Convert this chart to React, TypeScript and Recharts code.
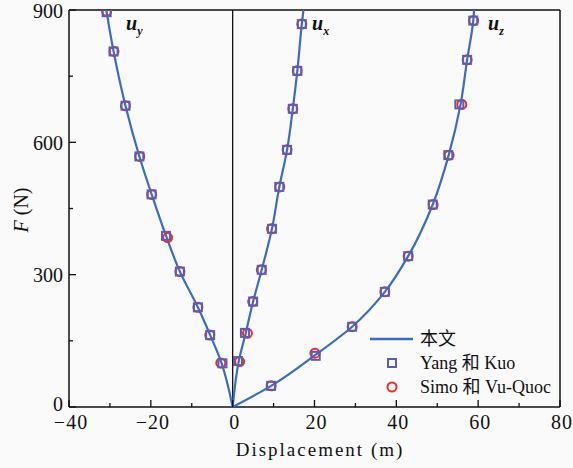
import React from 'react';
import { ScatterChart, Scatter, XAxis, YAxis, ReferenceLine } from 'recharts';

// curve "本文" (x = displacement, F = load)
const uyLineF = [0, 99, 163, 226, 307, 386, 482, 568, 683, 806, 900];
const uyLineX = [0, -2.7, -5.5, -8.5, -12.9, -16.2, -19.8, -22.8, -26.2, -29.1, -30.9];
const uxLineF = [0, 104, 168, 239, 311, 404, 499, 583, 676, 762, 868, 900];
const uxLineX = [0, 1.5, 3.2, 5.0, 7.1, 9.6, 11.4, 13.3, 14.7, 15.8, 16.9, 17.3];
const uzLineF = [0, 48, 118, 182, 261, 342, 459, 571, 686, 787, 876, 900];
const uzLineX = [0, 9.4, 20.2, 29.2, 37.2, 42.9, 48.9, 52.8, 55.7, 57.3, 58.8, 59.0];

// Yang 和 Kuo
const yangUyF = [99, 163, 226, 307, 388, 482, 568, 683, 806, 895];
const yangUyX = [-2.5, -5.5, -8.5, -12.9, -16.3, -19.8, -22.8, -26.2, -29.1, -30.8];
const yangUxF = [104, 168, 239, 311, 404, 499, 583, 676, 762, 868];
const yangUxX = [1.3, 3.0, 5.0, 7.1, 9.6, 11.4, 13.3, 14.7, 15.8, 16.9];
const yangUzF = [48, 116, 182, 261, 342, 459, 571, 686, 787, 876];
const yangUzX = [9.4, 20.3, 29.2, 37.2, 42.9, 48.9, 52.7, 55.4, 57.3, 58.8];

// Simo 和 Vu-Quoc
const simoUyF = [100, 163, 226, 307, 384, 482, 568, 683, 806, 897];
const simoUyX = [-2.9, -5.6, -8.5, -12.9, -15.9, -19.8, -22.7, -26.2, -29.0, -30.8];
const simoUxF = [103, 167, 239, 311, 404, 499, 583, 676, 762, 868];
const simoUxX = [1.7, 3.6, 4.9, 7.0, 9.5, 11.5, 13.3, 14.7, 15.8, 16.9];
const simoUzF = [48, 122, 182, 261, 342, 459, 571, 686, 787, 876];
const simoUzX = [9.4, 20.1, 29.2, 37.2, 42.9, 49.0, 52.9, 56.0, 57.3, 58.9];

const xTicks = [-40, -30, -20, -10, 0, 10, 20, 30, 40, 50, 60, 70, 80];
const yTicks = [0, 150, 300, 450, 600, 750, 900];

const pts = (xs: number[], fs: number[]) => xs.map((x, i) => ({ x, y: fs[i] }));

const LINE = '#3a6cc2';
const SQUARE = '#5c5cb4';
const CIRCLE = '#ee2a2a';
const serif = '"Liberation Serif", "Noto Sans CJK SC", serif';

const YTick = (props: any) => {
  const { x, y, payload } = props;
  const major = payload.value % 300 === 0;
  return (
    <g>
      <line x1={x} x2={x + (major ? 7 : 4)} y1={y} y2={y} stroke="#111" strokeWidth={1.3} />
      {major && (
        <text
          x={x - 6}
          y={payload.value === 0 ? y - 3 : y + 1}
          dy="0.34em"
          textAnchor="end"
          fontSize={20}
          fontFamily={serif}
          fill="#111"
        >
          {payload.value}
        </text>
      )}
    </g>
  );
};

const XTick = (props: any) => {
  const { x, y, payload } = props;
  const major = payload.value % 20 === 0;
  const label = payload.value < 0 ? `\u2212${Math.abs(payload.value)}` : `${payload.value}`;
  return (
    <g>
      <line x1={x} x2={x} y1={y} y2={y - (major ? 7 : 4)} stroke="#111" strokeWidth={1.3} />
      {major && (
        <text x={x + 2} y={y + 22} textAnchor="middle" fontSize={20} fontFamily={serif} fill="#111" letterSpacing={1}>
          {label}
        </text>
      )}
    </g>
  );
};

const Square = (p: any) => (
  <rect x={p.cx - 4} y={p.cy - 4} width={8} height={8} fill="none" stroke={SQUARE} strokeWidth={2} />
);
const Circle = (p: any) => (
  <circle cx={p.cx} cy={p.cy} r={4.5} fill="none" stroke={CIRCLE} strokeWidth={2} />
);
const Nothing = () => <g />;

export default function App() {
  const lines = [pts(uyLineX, uyLineF), pts(uxLineX, uxLineF), pts(uzLineX, uzLineF)];
  const simo = [pts(simoUyX, simoUyF), pts(simoUxX, simoUxF), pts(simoUzX, simoUzF)];
  const yang = [pts(yangUyX, yangUyF), pts(yangUxX, yangUxF), pts(yangUzX, yangUzF)];

  return (
    <div style={{ position: 'absolute', left: 0, top: 0, width: 573, height: 468, background: '#fafafa' }}>
      <ScatterChart width={573} height={468} margin={{ top: 10, right: 13, bottom: 0, left: 0 }}>
        <XAxis
          type="number"
          dataKey="x"
          domain={[-40, 80]}
          ticks={xTicks}
          interval={0}
          height={61}
          tickSize={0}
          tickMargin={0}
          tickLine={false}
          tick={<XTick />}
          axisLine={{ stroke: '#111', strokeWidth: 1.5 }}
          allowDataOverflow
        />
        <YAxis
          type="number"
          dataKey="y"
          domain={[0, 900]}
          ticks={yTicks}
          interval={0}
          width={69}
          tickSize={0}
          tickMargin={0}
          tickLine={false}
          tick={<YTick />}
          axisLine={{ stroke: '#111', strokeWidth: 1.5 }}
          allowDataOverflow
        />
        <ReferenceLine y={900} stroke="#111" strokeWidth={1.5} />
        <ReferenceLine x={80} stroke="#111" strokeWidth={1.5} />
        <ReferenceLine x={0} stroke="#111" strokeWidth={1.3} />
        {lines.map((d, i) => (
          <Scatter
            key={`l${i}`}
            data={d}
            line={{ stroke: LINE, strokeWidth: 2.2 }}
            lineJointType="monotoneY"
            shape={<Nothing />}
            isAnimationActive={false}
          />
        ))}
        {simo.map((d, i) => (
          <Scatter key={`s${i}`} data={d} shape={<Circle />} isAnimationActive={false} />
        ))}
        {yang.map((d, i) => (
          <Scatter key={`y${i}`} data={d} shape={<Square />} isAnimationActive={false} />
        ))}
      </ScatterChart>
      <svg width={573} height={468} style={{ position: 'absolute', left: 0, top: 0, pointerEvents: 'none' }}>
        {/* curve labels */}
        <text x={126} y={30} fontSize={20} fontStyle="italic" fontWeight="bold" fontFamily={serif} fill="#111">
          u<tspan fontSize={12} dy={5}>y</tspan>
        </text>
        <text x={312} y={30} fontSize={20} fontStyle="italic" fontWeight="bold" fontFamily={serif} fill="#111">
          u<tspan fontSize={12} dy={5}>x</tspan>
        </text>
        <text x={488} y={30} fontSize={20} fontStyle="italic" fontWeight="bold" fontFamily={serif} fill="#111">
          u<tspan fontSize={12} dy={5}>z</tspan>
        </text>
        {/* axis titles */}
        <text
          transform="translate(28,210) rotate(-90)"
          textAnchor="middle"
          fontSize={20}
          fontFamily={serif}
          fill="#111"
        >
          <tspan fontStyle="italic">F</tspan> (N)
        </text>
        <text x={320} y={456} textAnchor="middle" fontSize={19} letterSpacing={2} fontFamily={serif} fill="#111">
          Displacement (m)
        </text>
        {/* legend */}
        <line x1={370} x2={413} y1={339} y2={339} stroke={LINE} strokeWidth={2.5} />
        <text x={420} y={345} fontSize={18} fontFamily={serif} fill="#111">本文</text>
        <rect x={388} y={359} width={8} height={8} fill="none" stroke={SQUARE} strokeWidth={2} />
        <text x={420} y={369} fontSize={18} fontFamily={serif} fill="#111">Yang 和 Kuo</text>
        <circle cx={392} cy={387} r={4.5} fill="none" stroke={CIRCLE} strokeWidth={2} />
        <text x={420} y={393} fontSize={18} fontFamily={serif} fill="#111">Simo 和 Vu-Quoc</text>
      </svg>
    </div>
  );
}
